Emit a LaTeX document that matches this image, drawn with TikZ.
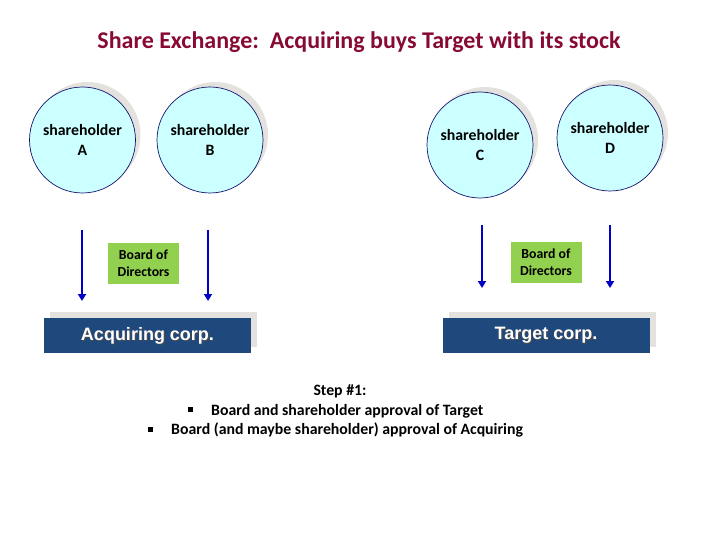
\documentclass[tikz,border=0pt]{standalone}
\usepackage{fontspec}
\setmainfont{Carlito}
\newfontfamily\arialf{Liberation Sans}
\usetikzlibrary{arrows.meta}
\definecolor{titlered}{RGB}{135,10,50}
\definecolor{circfill}{RGB}{204,255,255}
\definecolor{circline}{RGB}{20,20,110}
\definecolor{boardgreen}{RGB}{146,208,80}
\definecolor{corpblue}{RGB}{31,73,125}
\definecolor{shadowgray}{RGB}{228,226,222}
\definecolor{arrowblue}{RGB}{0,0,200}
\tikzset{
  holder/.style={circle, draw=circline, line width=0.7pt, fill=circfill, minimum size=106pt, inner sep=0pt, align=center, font=\bfseries\fontsize{15.8}{19.5}\selectfont},
  holdershadow/.style={circle, fill=shadowgray, minimum size=106pt, inner sep=0pt},
  board/.style={fill=boardgreen, minimum width=71pt, minimum height=41pt, inner sep=0pt, align=center, font=\bfseries\fontsize{13.8}{17}\selectfont},
  corp/.style={fill=corpblue, minimum width=207pt, minimum height=35pt, inner sep=0pt},
  corpshadow/.style={fill=shadowgray, minimum width=207pt, minimum height=35pt, inner sep=0pt},
  corplabel/.style={text=white, font=\arialf\bfseries\fontsize{18}{21}\selectfont},
  flow/.style={draw=arrowblue, line width=2.2pt, -{Triangle[length=7pt,width=8pt]}},
  txt/.style={font=\bfseries\fontsize{15.8}{19}\selectfont, inner sep=0pt}
}
\begin{document}
\begin{tikzpicture}[x=1pt,y=-1pt]
\useasboundingbox (0,0) rectangle (720,540);
% title
\node[font=\bfseries\fontsize{24}{29}\selectfont, text=titlered] (title) at (359,42) {Share Exchange:\ \ Acquiring buys Target with its stock};
% circle shadows
\node[holdershadow] at (87.5,135) {};
\node[holdershadow] at (215,135) {};
\node[holdershadow] at (485,140) {};
\node[holdershadow] at (615,133) {};
% circles
\node[holder] (A) at (82.5,140) {shareholder\\A};
\node[holder] (B) at (210,140) {shareholder\\B};
\node[holder] (C) at (480,145) {shareholder\\C};
\node[holder] (D) at (610,138) {shareholder\\D};
% boards
\node[board] (bA) at (143.5,263.5) {Board of\\Directors};
\node[board] (bT) at (546,262.5) {Board of\\Directors};
% corps
\node[corpshadow] at (153.5,329.5) {};
\node[corp] (acq) at (147.5,335.5) {};
\node[corplabel] at ([shift={(1,1)}]acq.center) {\textcolor{black!70}{Acquiring corp.}};
\node[corplabel] (acqlbl) at (acq.center) {Acquiring corp.};
\node[corpshadow] at (552,329.5) {};
\node[corp] (tgt) at (546,335) {};
\node[corplabel] at ([shift={(1,1)}]tgt.center) {\textcolor{black!70}{Target corp.}};
\node[corplabel] (tgtlbl) at (tgt.center) {Target corp.};
% arrows
\coordinate (a1s) at (82,230);
\coordinate (a1e) at (82,301);
\coordinate (a2s) at (208,230);
\coordinate (a2e) at (208,301);
\coordinate (t1s) at (482,225);
\coordinate (t1e) at (482,288);
\coordinate (t2s) at (610,225);
\coordinate (t2e) at (610,288);
\draw[flow] (a1s) -- (a1e);
\draw[flow] (a2s) -- (a2e);
\draw[flow] (t1s) -- (t1e);
\draw[flow] (t2s) -- (t2e);
% step text
\node[txt] (step) at (340,391) {Step \#1:};
\node[txt, anchor=west] (l1) at (188,411) {\raisebox{3pt}{\rule{5pt}{5pt}}\hspace{18pt}Board and shareholder approval of Target};
\node[txt, anchor=west] (l2) at (148,430) {\raisebox{3pt}{\rule{5pt}{5pt}}\hspace{18pt}Board (and maybe shareholder) approval of Acquiring};
\end{tikzpicture}
\end{document}
